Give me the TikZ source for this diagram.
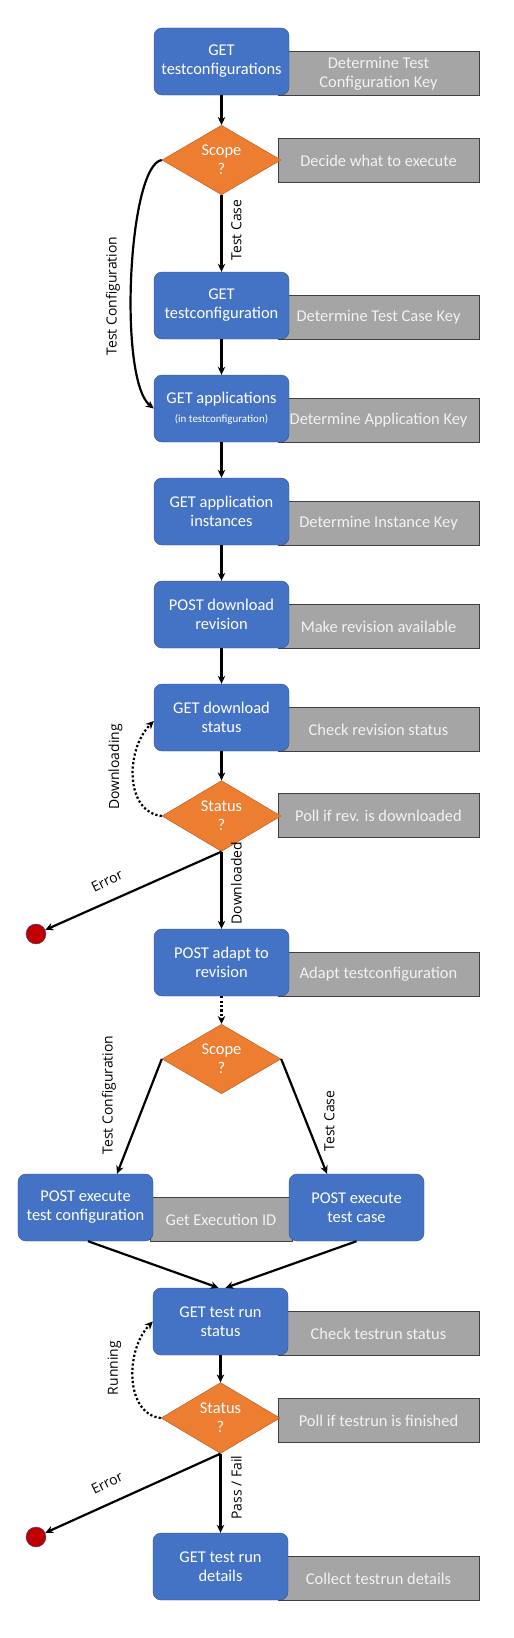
\documentclass[tikz,border=0pt]{standalone}
\usepackage{fontspec}
\setmainfont{Carlito}
\newfontfamily\lblfont{Open Sans}
\usetikzlibrary{shapes.geometric,arrows.meta}
\definecolor{blockblue}{HTML}{4472C4}
\definecolor{blockedge}{HTML}{2F528F}
\definecolor{decorange}{HTML}{ED7D31}
\definecolor{decedge}{HTML}{AE5A21}
\definecolor{notegrey}{HTML}{A5A5A5}
\definecolor{noteedge}{HTML}{404040}
\definecolor{stopred}{HTML}{C00000}
\begin{document}
\begin{tikzpicture}[x=1bp, y=1bp,
        block/.style={rectangle, rounded corners=8bp, draw=blockedge, fill=blockblue, minimum width=135bp, minimum height=67bp, inner sep=1bp, text=white, align=center, font=\fontsize{16.5}{19}\selectfont},
        note/.style={rectangle, draw=noteedge, fill=notegrey, minimum width=201bp, minimum height=44bp, text=white!95!black, align=center, font=\fontsize{16.5}{19}\selectfont},
        decision/.style={diamond, draw=decedge, fill=decorange, minimum width=119bp, minimum height=55bp, inner sep=0pt, text=white, align=center, font=\fontsize{16.5}{19}\selectfont},
        stopnode/.style={circle, draw=blockedge, fill=stopred, minimum size=20bp, inner sep=0pt},
        lbl/.style={font=\lblfont\fontsize{14}{16}\selectfont, inner sep=1bp},
        flow/.style={line width=2.2bp, -{Stealth[length=8bp, width=7.5bp]}},
        poll/.style={flow, dash pattern=on 2.2bp off 2.2bp}
    ]
    \useasboundingbox (0,0) rectangle (514,-1638);

    % notes behind the blocks
    \node[note] (n1) at (378.5,-73.5) {Determine Test\\Configuration Key};
    \node[note] (n2) at (378.5,-160.5) {Decide what to execute};
    \node[note] (n3) at (378.5,-317.5) {Determine Test Case Key};
    \node[note] (n4) at (378.5,-420.5) {Determine Application Key};
    \node[note] (n5) at (378.5,-523.5) {Determine Instance Key};
    \node[note] (n6) at (378.5,-626.5) {Make revision available};
    \node[note] (n7) at (378.5,-729.5) {Check revision status};
    \node[note] (n8) at (378.5,-815.5) {Poll if rev. is downloaded};
    \node[note] (n9) at (378.5,-974.5) {Adapt testconfiguration};
    \node[note, minimum width=142bp] (n10) at (221,-1219.5) {Get Execution ID};
    \node[note] (n11) at (378.5,-1333.5) {Check testrun status};
    \node[note] (n12) at (378.5,-1420.5) {Poll if testrun is finished};
    \node[note] (n13) at (378.5,-1578.5) {Collect testrun details};

    % blocks and decisions
    \node[block] (b1) at (221.5,-61.5) {GET\\testconfigurations};
    \node[decision] (d1) at (221.5,-160) {Scope\\?};
    \node[block] (b2) at (221.5,-305.5) {GET\\testconfiguration};
    \node[block] (b3) at (221.5,-408.5) {GET applications\\{\fontsize{11}{12}\selectfont (in testconfiguration)}};
    \node[block] (b4) at (221.5,-511.5) {GET application\\instances};
    \node[block] (b5) at (221.5,-614.5) {POST download\\revision};
    \node[block] (b6) at (221.5,-717.5) {GET download\\status};
    \node[decision] (d2) at (221.5,-816) {Status\\?};
    \node[stopnode] (err1) at (36,-934) {};
    \node[block] (b7) at (221.5,-962.5) {POST adapt to\\revision};
    \node[decision] (d3) at (221.5,-1059) {Scope\\?};
    \node[block] (b8) at (85.5,-1207.5) {POST execute\\test configuration};
    \node[block] (b9) at (356.5,-1207.5) {POST execute\\test case};
    \node[block] (b10) at (220.5,-1321.5) {GET test run\\status};
    \node[decision] (d4) at (220.5,-1418) {Status\\?};
    \node[stopnode] (err2) at (36,-1537) {};
    \node[block] (b11) at (220.5,-1566.5) {GET test run\\details};

    % connectors
    \draw[flow] (b1) -- (d1);
    \draw[flow] (d1) -- (b2);
    \draw[flow] (d1.west) .. controls (128,-165) and (118,-380) .. (b3.west);
    \draw[flow] (b2) -- (b3);
    \draw[flow] (b3) -- (b4);
    \draw[flow] (b4) -- (b5);
    \draw[flow] (b5) -- (b6);
    \draw[flow] (b6) -- (d2);
    \draw[poll] (d2.west) .. controls (125,-812) and (125,-750) .. ([yshift=-3.5bp]b6.west);
    \draw[flow] (d2.south) -- (err1);
    \draw[flow] (d2) -- (b7);
    \draw[poll] (b7) -- (d3);
    \draw[flow] (d3.west) -- ([xshift=31.5bp]b8.north);
    \draw[flow] (d3.east) -- ([xshift=-29.5bp]b9.north);
    \draw[flow] ([xshift=2.5bp]b8.south) -- ([xshift=-2bp]b10.north);
    \draw[flow] (b9.south) -- ([xshift=5bp]b10.north);
    \draw[flow] (b10) -- (d4);
    \draw[poll] (d4.west) .. controls (125,-1414) and (125,-1350) .. (b10.west);
    \draw[flow] (d4.south) -- (err2);
    \draw[flow] (d4) -- (b11);

    % connector labels
    \node[lbl, rotate=90] (l1) at (236.5,-230) {Test Case};
    \node[lbl, rotate=90] (l2) at (113,-296) {Test Configuration};
    \node[lbl, rotate=90] (l3) at (115.5,-767) {Downloading};
    \node[lbl, rotate=90] (l4) at (236.5,-883) {Downloaded};
    \node[lbl, rotate=26] (l5) at (107,-881) {Error};
    \node[lbl, rotate=90] (l6) at (109,-1095) {Test Configuration};
    \node[lbl, rotate=90] (l7) at (329.5,-1121) {Test Case};
    \node[lbl, rotate=90] (l8) at (114.5,-1368) {Running};
    \node[lbl, rotate=90] (l9) at (236.5,-1487.5) {Pass / Fail};
    \node[lbl, rotate=26] (l10) at (107,-1483) {Error};
\end{tikzpicture}
\end{document}
